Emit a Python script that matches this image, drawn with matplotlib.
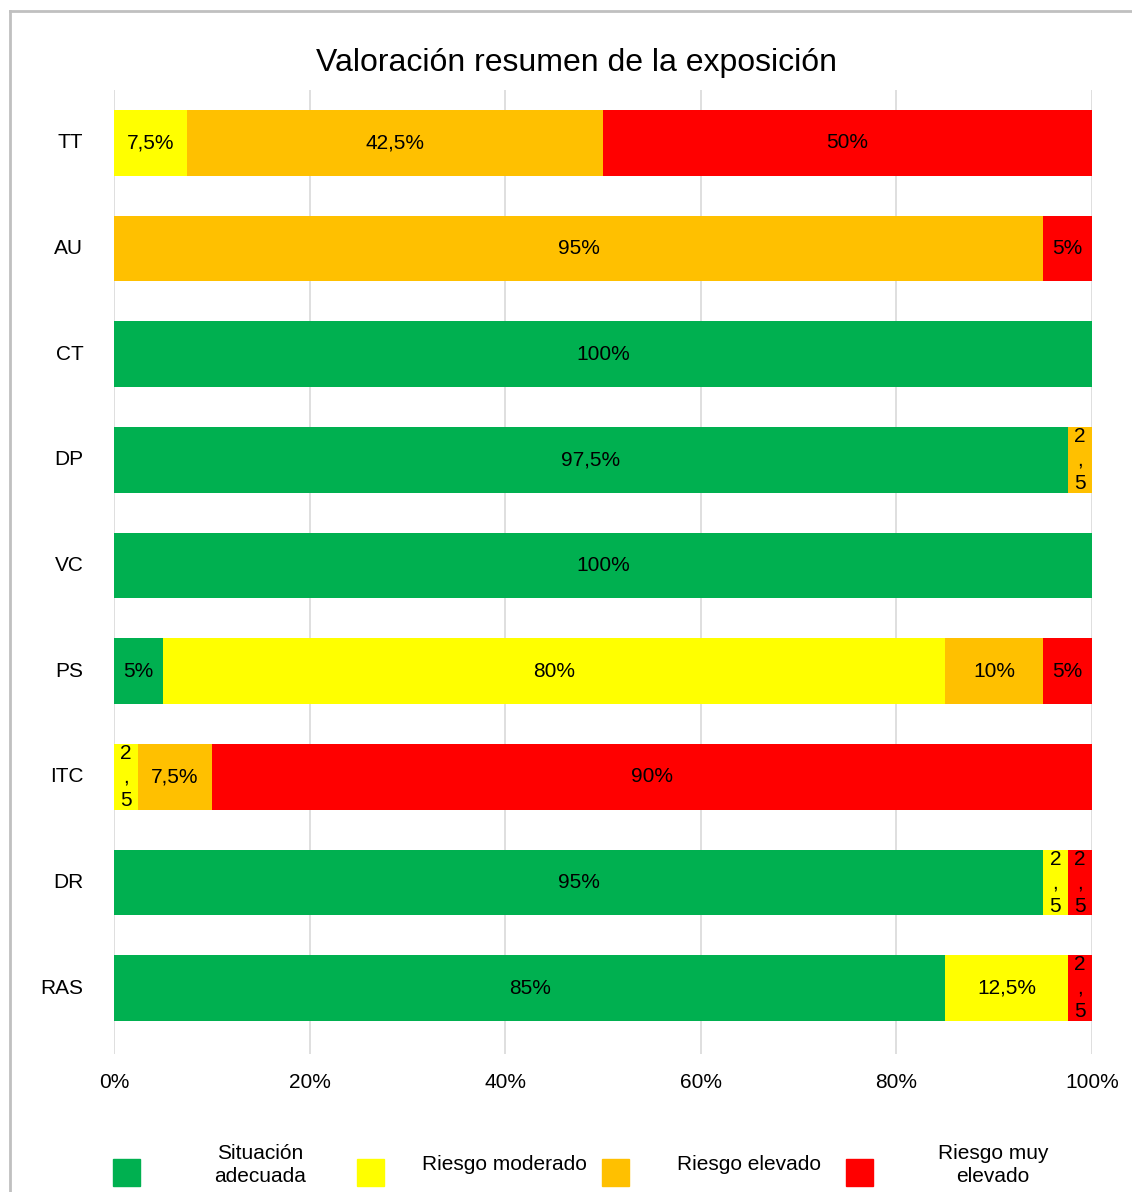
import matplotlib
matplotlib.use("Agg")
from matplotlib import pyplot as plt
from matplotlib.patches import Rectangle
from matplotlib.lines import Line2D
from matplotlib.ticker import FuncFormatter

plt.rcParams['font.family'] = ['Liberation Sans', 'DejaVu Sans']

categories = ["TT", "AU", "CT", "DP", "VC", "PS", "ITC", "DR", "RAS"]
situacion_adecuada = [0, 0, 100, 97.5, 100, 5, 0, 95, 85]
riesgo_moderado = [7.5, 0, 0, 0, 0, 80, 2.5, 2.5, 12.5]
riesgo_elevado = [42.5, 95, 0, 2.5, 0, 10, 7.5, 0, 0]
riesgo_muy_elevado = [50, 5, 0, 0, 0, 5, 90, 2.5, 2.5]

series_names = ["Situación\nadecuada", "Riesgo moderado", "Riesgo elevado", "Riesgo muy\nelevado"]
series_values = [situacion_adecuada, riesgo_moderado, riesgo_elevado, riesgo_muy_elevado]
colors = ["#00B050", "#FFFF00", "#FFC000", "#FF0000"]

W, H = 1132, 1192
fig = plt.figure(figsize=(W / 100, H / 100), dpi=100)
ax = fig.add_axes([114 / W, 1 - 1054 / H, (1092 - 114) / W, (1054 - 90) / H])

y = list(range(len(categories)))
left = [0] * len(categories)
for name, vals, col in zip(series_names, series_values, colors):
    ax.barh(y, vals, left=left, height=0.624, color=col, zorder=2)
    for i, v in enumerate(vals):
        if v == 0:
            continue
        num = "{:g}".format(v).replace(".", ",")
        if v < 3:
            # narrow segment: text wraps one char per line
            txt = "\n".join(num)
        else:
            txt = num + "%"
        ax.text(left[i] + v / 2, i, txt, ha="center", va="center",
                fontsize=15, color="black", linespacing=1.3, zorder=3)
    left = [l + v for l, v in zip(left, vals)]

ax.set_xlim(0, 100)
ax.set_ylim(8.5 + 13 / 105.75, -0.5)
ax.set_xticks([0, 20, 40, 60, 80, 100])
ax.xaxis.set_major_formatter(FuncFormatter(lambda v, p: "{:g}%".format(v)))
ax.set_yticks(y)
ax.set_yticklabels(categories, va="center")
ax.tick_params(axis="both", length=0, labelsize=15)
ax.tick_params(axis="y", pad=22)
ax.tick_params(axis="x", pad=14)
ax.grid(axis="x", color="#d9d9d9", linewidth=1.2, zorder=0)
for s in ax.spines.values():
    s.set_visible(False)

fig.text(576 / W, 1 - 63 / H, "Valoración resumen de la exposición",
         ha="center", va="center", fontsize=23)

# legend, excel style
for k, (name, col) in enumerate(zip(series_names, colors)):
    x0 = 113 + k * 244.3
    fig.add_artist(Rectangle((x0 / W, 1 - 1186 / H), 27 / W, 27 / H,
                             transform=fig.transFigure, color=col))
    fig.text((x0 + 147) / W, 1 - 1165 / H, name, ha="center", va="center",
             fontsize=15, multialignment="center", linespacing=1.3)

# outer frame
fig.add_artist(Line2D([9.5 / W, 9.5 / W], [0, 1 - 11 / H], transform=fig.transFigure,
                      color="#c0c0c0", linewidth=2))
fig.add_artist(Line2D([9.5 / W, 1], [1 - 11 / H, 1 - 11 / H], transform=fig.transFigure,
                      color="#c0c0c0", linewidth=2))

fig.savefig("out.png", dpi=100)
